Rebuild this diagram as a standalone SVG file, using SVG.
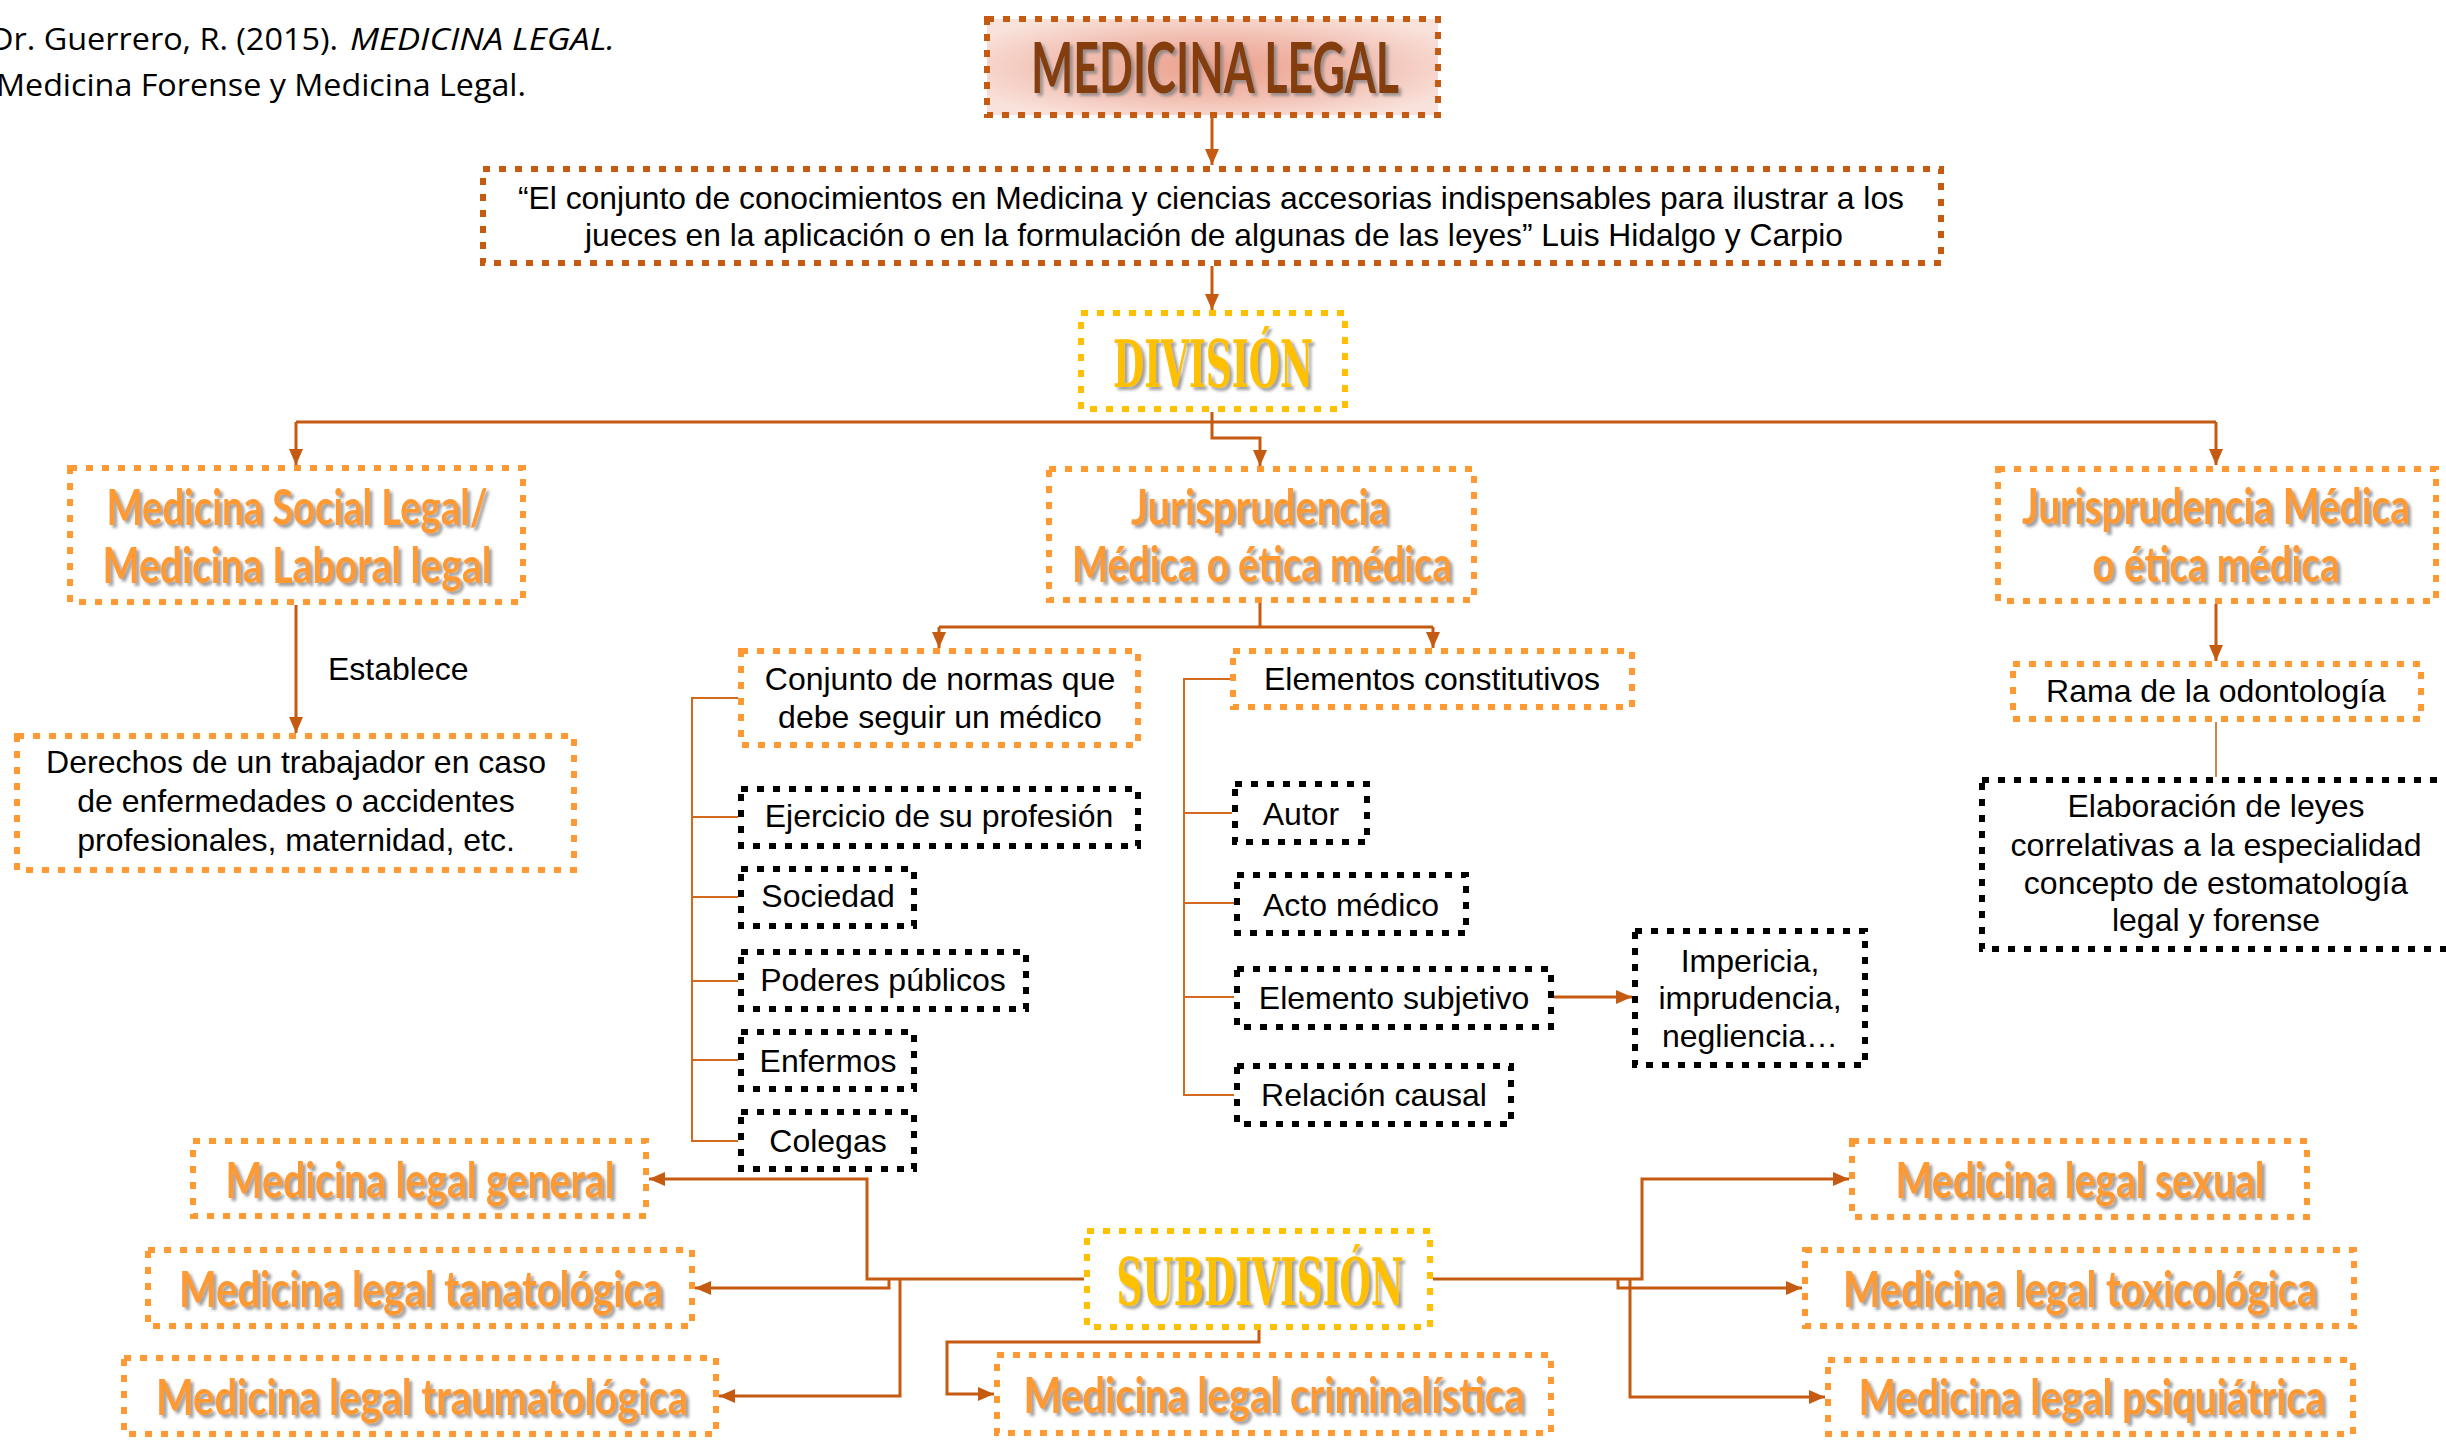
<svg xmlns="http://www.w3.org/2000/svg" width="2446" height="1440" viewBox="0 0 2446 1440">
<defs>
<radialGradient id="tg" cx="0.5" cy="0.5" r="0.6">
<stop offset="0" stop-color="#EBA08D"/>
<stop offset="0.55" stop-color="#F2BFB2"/>
<stop offset="1" stop-color="#F9E2DB"/>
</radialGradient>
<filter id="sh" x="-10%" y="-20%" width="120%" height="150%">
<feDropShadow dx="3" dy="3" stdDeviation="1.5" flood-color="#7f7f7f" flood-opacity="0.75"/>
</filter>
<marker id="ah" markerWidth="16" markerHeight="14" refX="16" refY="7" orient="auto" markerUnits="userSpaceOnUse">
<path d="M0,0 L16,7 L0,14 z" fill="#C55A11"/>
</marker>
</defs>
<style>
.bo{fill:#fff;stroke:#FF9933;stroke-width:6;stroke-dasharray:7 9}
.bk{fill:#fff;stroke:#000;stroke-width:6;stroke-dasharray:7 9}
.by{fill:#fff;stroke:#FFC000;stroke-width:6;stroke-dasharray:7 9}
.bd{fill:#fff;stroke:#C55A11;stroke-width:6;stroke-dasharray:7 9}
.t{font-family:"Liberation Sans",Arial,sans-serif;font-size:32px;fill:#000;text-anchor:middle}
.ts{font-family:"Liberation Sans",Arial,sans-serif;font-size:32px;fill:#000;text-anchor:start}
.h{font-family:Lato,"Open Sans",sans-serif;font-weight:bold;font-size:50px;fill:#FF9933;text-anchor:middle;filter:url(#sh)}
.d{font-family:"DejaVu Serif",serif;font-weight:bold;font-size:66px;fill:#FFC000;text-anchor:middle;filter:url(#sh)}
.c{font-family:"Open Sans","Liberation Sans",sans-serif;font-size:31px;fill:#000}
.ln{fill:none;stroke:#C55A11;stroke-width:3}
.lt{fill:none;stroke:#D2691E;stroke-width:2}
.ar{marker-end:url(#ah)}
</style>

<g id="cita">
<text class="c" x="-10" y="50" textLength="348" lengthAdjust="spacingAndGlyphs">Dr. Guerrero, R. (2015).</text>
<text class="c" x="350" y="50" font-style="italic" textLength="265" lengthAdjust="spacingAndGlyphs">MEDICINA LEGAL.</text>
<text class="c" x="-4" y="96" textLength="530" lengthAdjust="spacingAndGlyphs">Medicina Forense y Medicina Legal.</text>
</g>

<g id="connectors">
<path class="ln ar" d="M1212,118 V165"/>
<path class="ln ar" d="M1212,266 V310"/>
<path class="ln" d="M1212,412 V422 M296,422 H2216"/>
<path class="ln ar" d="M296,422 V465"/>
<path class="ln ar" d="M2216,422 V465"/>
<path class="ln ar" d="M1212,422 V438 H1260 V466"/>
<path class="ln ar" d="M296,605 V733"/>
<path class="ln" d="M1260,603 V627 M939,627 H1433"/>
<path class="ln ar" d="M939,627 V648"/>
<path class="ln ar" d="M1433,627 V648"/>
<path class="ln ar" d="M2216,604 V661"/>
<path fill="none" stroke="#C55A11" stroke-width="1.5" d="M2216,722 V777"/>
<path class="lt" d="M738,698 H692 V1141 H738 M692,817 H738 M692,897 H738 M692,981 H738 M692,1060 H738"/>
<path class="lt" d="M1232,679 H1184 V1095 H1234 M1184,813 H1232 M1184,903 H1234 M1184,997 H1234"/>
<path class="ln ar" d="M1554,997 H1632"/>
<path class="ln ar" d="M1084,1279 H867 V1179 H649"/>
<path class="ln ar" d="M889,1279 V1288 H695"/>
<path class="ln ar" d="M900,1279 V1396 H719"/>
<path class="ln ar" d="M1259,1330 V1342 H947 V1394 H994"/>
<path class="ln ar" d="M1433,1279 H1642 V1179 H1849"/>
<path class="ln ar" d="M1618,1279 V1288 H1802"/>
<path class="ln ar" d="M1630,1279 V1397 H1825"/>
</g>

<g id="medicina-legal">
<rect x="987" y="19" width="451" height="96" fill="url(#tg)" stroke="#C55A11" stroke-width="6" stroke-dasharray="7 9"/>
<text x="1215" y="93" font-family="Lato,sans-serif" font-weight="bold" font-size="70" fill="#843C0C" text-anchor="middle" filter="url(#sh)" textLength="368" lengthAdjust="spacingAndGlyphs">MEDICINA LEGAL</text>
</g>

<g id="definicion">
<rect class="bd" x="483" y="169" width="1458" height="94"/>
<text class="t" x="1211" y="209" textLength="1386" lengthAdjust="spacingAndGlyphs">“El conjunto de conocimientos en Medicina y ciencias accesorias indispensables para ilustrar a los</text>
<text class="t" x="1214" y="246" textLength="1258" lengthAdjust="spacingAndGlyphs">jueces en la aplicación o en la formulación de algunas de las leyes” Luis Hidalgo y Carpio</text>
</g>

<g id="division">
<rect class="by" x="1081" y="313" width="264" height="96"/>
<text class="d" x="1213" y="387" font-size="65" textLength="200" lengthAdjust="spacingAndGlyphs">DIVISIÓN</text>
</g>

<g id="medicina-social">
<rect class="bo" x="70" y="468" width="453" height="134"/>
<text class="h" x="297" y="525" textLength="381" lengthAdjust="spacingAndGlyphs">Medicina Social Legal/</text>
<text class="h" x="297" y="583" textLength="389" lengthAdjust="spacingAndGlyphs">Medicina Laboral legal</text>
</g>

<g id="establece-label">
<text class="ts" x="328" y="680">Establece</text>
</g>

<g id="derechos">
<rect class="bo" x="17" y="736" width="557" height="134"/>
<text class="t" x="296" y="773">Derechos de un trabajador en caso</text>
<text class="t" x="296" y="812">de enfermedades o accidentes</text>
<text class="t" x="296" y="851">profesionales, maternidad, etc.</text>
</g>

<g id="jurisprudencia-centro">
<rect class="bo" x="1049" y="469" width="425" height="131"/>
<text class="h" x="1260" y="525" textLength="258" lengthAdjust="spacingAndGlyphs">Jurisprudencia</text>
<text class="h" x="1262" y="582" textLength="380" lengthAdjust="spacingAndGlyphs">Médica o ética médica</text>
</g>

<g id="jurisprudencia-derecha">
<rect class="bo" x="1998" y="469" width="438" height="132"/>
<text class="h" x="2216" y="524" textLength="388" lengthAdjust="spacingAndGlyphs">Jurisprudencia Médica</text>
<text class="h" x="2216" y="582" textLength="247" lengthAdjust="spacingAndGlyphs">o ética médica</text>
</g>

<g id="conjunto">
<rect class="bo" x="741" y="651" width="397" height="94"/>
<text class="t" x="940" y="690">Conjunto de normas que</text>
<text class="t" x="940" y="728">debe seguir un médico</text>
</g>

<g id="elementos">
<rect class="bo" x="1233" y="651" width="399" height="56"/>
<text class="t" x="1432" y="690">Elementos constitutivos</text>
</g>

<g id="ejercicio">
<rect class="bk" x="741" y="789" width="397" height="57"/>
<text class="t" x="939" y="827">Ejercicio de su profesión</text>
</g>
<g id="sociedad">
<rect class="bk" x="741" y="869" width="173" height="57"/>
<text class="t" x="828" y="907">Sociedad</text>
</g>
<g id="poderes">
<rect class="bk" x="741" y="952" width="285" height="57"/>
<text class="t" x="883" y="991">Poderes públicos</text>
</g>
<g id="enfermos">
<rect class="bk" x="741" y="1032" width="173" height="57"/>
<text class="t" x="828" y="1072">Enfermos</text>
</g>
<g id="colegas">
<rect class="bk" x="741" y="1112" width="173" height="57"/>
<text class="t" x="828" y="1152">Colegas</text>
</g>

<g id="autor">
<rect class="bk" x="1235" y="784" width="132" height="58"/>
<text class="t" x="1301" y="825">Autor</text>
</g>
<g id="acto">
<rect class="bk" x="1237" y="875" width="229" height="58"/>
<text class="t" x="1351" y="916">Acto médico</text>
</g>
<g id="subjetivo">
<rect class="bk" x="1237" y="969" width="314" height="58"/>
<text class="t" x="1394" y="1009">Elemento subjetivo</text>
</g>
<g id="relacion">
<rect class="bk" x="1237" y="1066" width="274" height="58"/>
<text class="t" x="1374" y="1106">Relación causal</text>
</g>
<g id="impericia">
<rect class="bk" x="1635" y="931" width="230" height="134"/>
<text class="t" x="1750" y="972">Impericia,</text>
<text class="t" x="1750" y="1009">imprudencia,</text>
<text class="t" x="1750" y="1047">negliencia…</text>
</g>

<g id="rama">
<rect class="bo" x="2013" y="664" width="408" height="55"/>
<text class="t" x="2216" y="702">Rama de la odontología</text>
</g>
<g id="elaboracion">
<rect class="bk" x="1982" y="780" width="468" height="169"/>
<text class="t" x="2216" y="817">Elaboración de leyes</text>
<text class="t" x="2216" y="856">correlativas a la especialidad</text>
<text class="t" x="2216" y="894">concepto de estomatología</text>
<text class="t" x="2216" y="931">legal y forense</text>
</g>

<g id="subdivision">
<rect class="by" x="1087" y="1231" width="343" height="96"/>
<text class="d" x="1260" y="1305" textLength="287" lengthAdjust="spacingAndGlyphs">SUBDIVISIÓN</text>
</g>

<g id="general">
<rect class="bo" x="193" y="1141" width="453" height="75"/>
<text class="h" x="420" y="1198" textLength="389" lengthAdjust="spacingAndGlyphs">Medicina legal general</text>
</g>
<g id="tanatologica">
<rect class="bo" x="148" y="1250" width="544" height="76"/>
<text class="h" x="421" y="1307" textLength="484" lengthAdjust="spacingAndGlyphs">Medicina legal tanatológica</text>
</g>
<g id="traumatologica">
<rect class="bo" x="124" y="1358" width="592" height="76"/>
<text class="h" x="422" y="1415" textLength="532" lengthAdjust="spacingAndGlyphs">Medicina legal traumatológica</text>
</g>
<g id="criminalistica">
<rect class="bo" x="997" y="1355" width="554" height="78"/>
<text class="h" x="1274" y="1413" textLength="501" lengthAdjust="spacingAndGlyphs">Medicina legal criminalística</text>
</g>
<g id="sexual">
<rect class="bo" x="1852" y="1141" width="455" height="76"/>
<text class="h" x="2080" y="1198" textLength="369" lengthAdjust="spacingAndGlyphs">Medicina legal sexual</text>
</g>
<g id="toxicologica">
<rect class="bo" x="1805" y="1250" width="549" height="76"/>
<text class="h" x="2080" y="1307" textLength="474" lengthAdjust="spacingAndGlyphs">Medicina legal toxicológica</text>
</g>
<g id="psiquiatrica">
<rect class="bo" x="1828" y="1360" width="525" height="74"/>
<text class="h" x="2092" y="1415" textLength="467" lengthAdjust="spacingAndGlyphs">Medicina legal psiquiátrica</text>
</g>
</svg>
